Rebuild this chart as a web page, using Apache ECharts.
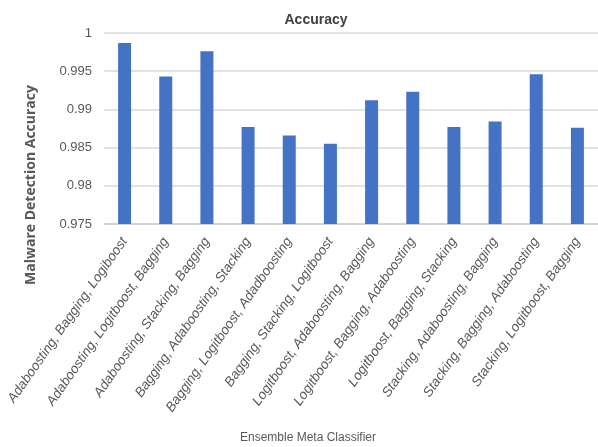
<!DOCTYPE html>
<html>
<head>
<meta charset="utf-8">
<script src="https://cdn.jsdelivr.net/npm/echarts@6/dist/echarts.min.js"></script>
<style>
  html, body { margin: 0; padding: 0; background: #fff; }
  #chart { width: 598px; height: 447px; }
</style>
</head>
<body>
<div id="chart"></div>
<script>
// Meta-classifier combinations (x categories)
const categories = [
  'Adaboosting, Bagging, Logiboost',
  'Adaboosting, Logitboost, Bagging',
  'Adaboosting, Stacking, Bagging',
  'Bagging, Adaboosting, Stacking',
  'Bagging, Logitboost, Adadboosting',
  'Bagging, Stacking, Logitboost',
  'Logitboost, Adaboosting, Bagging',
  'Logitboost, Bagging, Adaboosting',
  'Logitboost, Bagging, Stacking',
  'Stacking, Adaboosting, Bagging',
  'Stacking, Bagging, Adaboosting',
  'Stacking, Logitboost, Bagging'
];

// Malware detection accuracy per combination
const accuracy = [
  0.9987, 0.9943, 0.9976, 0.9877, 0.9866, 0.9855,
  0.9912, 0.9923, 0.9877, 0.9884, 0.9946, 0.9876
];

// Value axis range
const yMin = 0.975;
const yMax = 1;
const yStep = 0.005;

const chart = echarts.init(document.getElementById('chart'), null, { renderer: 'canvas' });

const labelFont = '"Liberation Sans Narrow", "Liberation Sans", sans-serif';

chart.setOption({
  animation: false,
  backgroundColor: '#ffffff',
  title: [
    {
      text: 'Accuracy',
      left: 311,
      top: 8,
      textAlign: 'center',
      textStyle: { fontFamily: labelFont, fontSize: 14, fontWeight: 'bold', color: '#404040' }
    },
    {
      text: 'Ensemble Meta Classifier',
      left: 303,
      top: 427,
      textAlign: 'center',
      textStyle: { fontFamily: labelFont, fontSize: 12, fontWeight: 'normal', color: '#595959' }
    }
  ],
  graphic: [
    {
      type: 'text',
      x: 31,
      y: 185,
      rotation: Math.PI / 2,
      style: {
        text: 'Malware Detection Accuracy',
        fontFamily: '"Open Sans", "Liberation Sans", sans-serif',
        fontSize: 14,
        fontWeight: 'bold',
        fill: '#595959',
        align: 'center',
        verticalAlign: 'middle'
      }
    }
  ],
  grid: { left: 104, right: -4, top: 33, bottom: 223, containLabel: false },
  xAxis: {
    type: 'category',
    data: categories,
    axisLine: { show: true, lineStyle: { color: '#d0d0d0', width: 1.5 } },
    axisTick: { show: false },
    axisLabel: {
      interval: 0,
      rotate: 55,
      margin: 15,
      fontFamily: labelFont,
      fontSize: 13.5,
      fontStyle: 'italic',
      color: '#595959'
    }
  },
  yAxis: {
    type: 'value',
    min: yMin,
    max: yMax,
    interval: yStep,
    axisLine: { show: false },
    axisTick: { show: false },
    splitLine: { lineStyle: { color: '#d9d9d9', width: 1.5 } },
    axisLabel: {
      margin: 12,
      fontFamily: labelFont,
      fontSize: 13,
      color: '#595959',
      formatter: v => String(+v.toFixed(3))
    }
  },
  series: [
    {
      type: 'bar',
      data: accuracy,
      barWidth: 13,
      itemStyle: { color: '#4472c4' }
    }
  ]
});
</script>
</body>
</html>
